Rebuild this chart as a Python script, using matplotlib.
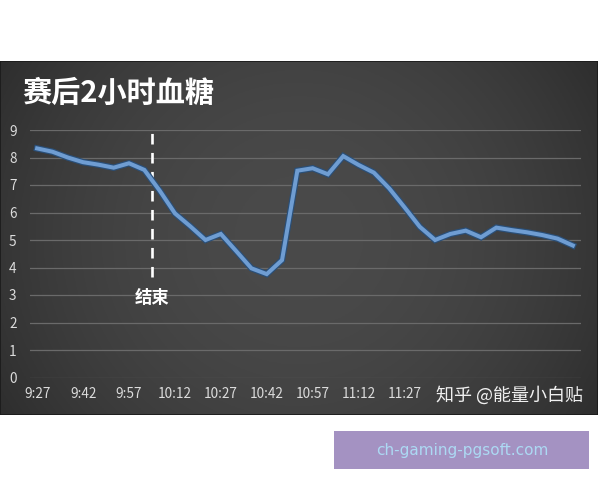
import numpy as np
import matplotlib
matplotlib.use("Agg")
import matplotlib.pyplot as plt
import matplotlib.patheffects as pe
from matplotlib.patches import Rectangle

plt.rcParams['font.family'] = ['Noto Sans CJK SC', 'DejaVu Sans']

# blood glucose every 5 min from 9:27 to 12:22
glucose = [8.33, 8.21, 8.0, 7.83, 7.74, 7.63, 7.79, 7.55, 6.8, 5.97,
           5.5, 5.0, 5.22, 4.6, 3.97, 3.76, 4.27, 7.52, 7.61, 7.39,
           8.05, 7.73, 7.45, 6.88, 6.19, 5.48, 5.0, 5.22, 5.34, 5.1,
           5.45, 5.36, 5.28, 5.18, 5.05, 4.8]
tick_labels = ['9:27', '9:42', '9:57', '10:12', '10:27', '10:42', '10:57', '11:12', '11:27']
tick_step = 3
end_pos = 7.5
end_label = '结束'
title = '赛后2小时血糖'
watermark = '知乎 @能量小白贴'
site = 'ch-gaming-pgsoft.com'

fig = plt.figure(figsize=(6, 4.8), dpi=100)
fig.patch.set_facecolor('white')

# dark panel with a soft gradient
bg = fig.add_axes([0, 65 / 480, 598 / 600, 354 / 480])
gx = np.linspace(-1, 1, 300)
gy = np.linspace(-1, 1, 200)
GX, GY = np.meshgrid(gx, gy)
shade = 0.29 - 0.08 * (GX ** 2) - 0.03 * (GY ** 2)
bg.imshow(np.dstack([shade, shade, shade]), aspect='auto', extent=[0, 1, 0, 1])
bg.set_xlim(0, 1)
bg.set_ylim(0, 1)
bg.axis('off')
bg.add_patch(Rectangle((0, 0), 1, 1, fill=False, edgecolor='#1a1a1a', lw=1.2,
                       transform=bg.transAxes))

fig.text(22 / 600, 1 - 93 / 480, title, color='white', fontsize=21,
         fontweight='bold', va='center', ha='left')

ax = fig.add_axes([29.5 / 600, 1 - 377.5 / 480, 551 / 600, 247.5 / 480])
ax.patch.set_alpha(0)
x = np.arange(len(glucose))
ax.set_xlim(-0.5, len(glucose) - 0.5)
ax.set_ylim(0, 9)
ax.set_yticks(range(10))
for v in range(1, 10):
    ax.axhline(v, color='#6a6a6a', lw=0.9, zorder=1)
ax.axhline(0, color='#5e5e5e', lw=0.9, zorder=1)

ax.plot(x, glucose, color='#6f9dd2', lw=2.9, solid_joinstyle='miter', zorder=3,
        path_effects=[pe.Stroke(linewidth=4.6, foreground='#2a4f78'), pe.Normal()])

ax.plot([end_pos, end_pos], [3.65, 9.0], color='white', lw=1.9,
        dashes=(4, 3.2), zorder=2)
ax.text(end_pos, 2.9, end_label, color='white', fontsize=12.5, ha='center',
        va='center', fontweight='bold')

ax.set_xticks(x[::tick_step][:len(tick_labels)])
ax.set_xticklabels(tick_labels)
ax.tick_params(axis='both', colors='#dcdcdc', labelsize=9.8, length=0)
ax.tick_params(axis='x', pad=7)
for lbl in ax.get_yticklabels():
    lbl.set_horizontalalignment('center')
ax.yaxis.set_tick_params(pad=12)
for s in ax.spines.values():
    s.set_visible(False)

fig.text(510 / 600, 1 - 395 / 480, watermark, color='#f0f0f0', fontsize=13,
         ha='center', va='center')

fig.patches.append(Rectangle((334 / 600, 1 - 469 / 480), 255 / 600, 38 / 480,
                             facecolor='#a492c2', edgecolor='none',
                             transform=fig.transFigure, figure=fig))
fig.text(462 / 600, 1 - 450 / 480, site, color='#acd9f3', fontsize=11,
         ha='center', va='center', family='DejaVu Sans')

fig.savefig('out.png', dpi=100)
